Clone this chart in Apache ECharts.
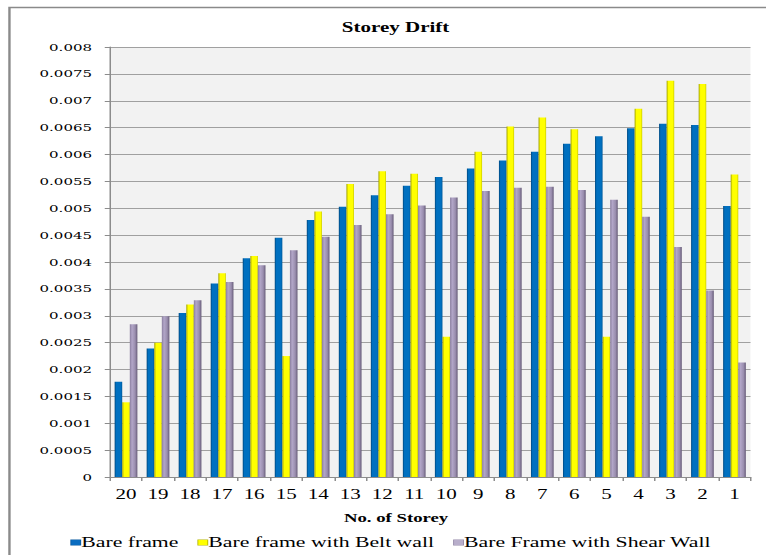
<!DOCTYPE html>
<html>
<head>
<meta charset="utf-8">
<script src="https://cdn.jsdelivr.net/npm/echarts@6/dist/echarts.min.js"></script>
<style>
  html, body { margin: 0; padding: 0; background: #ffffff; overflow: hidden; }
  /* the chart is laid out narrow and widened with a horizontal stretch */
  #chart { width: 510.67px; height: 555px; transform: scaleX(1.5); transform-origin: 0 0; }
</style>
</head>
<body>
<div id="chart"></div>
<script>
const storeys = ['20', '19', '18', '17', '16', '15', '14', '13', '12', '11',
                 '10', '9', '8', '7', '6', '5', '4', '3', '2', '1'];

const bareFrame = [0.00177, 0.00239, 0.00305, 0.00360, 0.00407, 0.00445, 0.00478, 0.00503, 0.00524, 0.00542,
                   0.00558, 0.00574, 0.00589, 0.00605, 0.00620, 0.00634, 0.00649, 0.00657, 0.00655, 0.00504];

const beltWall = [0.00139, 0.00250, 0.00321, 0.00379, 0.00411, 0.00225, 0.00494, 0.00545, 0.00569, 0.00564,
                  0.00261, 0.00605, 0.00652, 0.00669, 0.00647, 0.00261, 0.00685, 0.00737, 0.00731, 0.00563];

const shearWall = [0.00284, 0.00299, 0.00329, 0.00363, 0.00394, 0.00422, 0.00447, 0.00469, 0.00489, 0.00505,
                   0.00520, 0.00532, 0.00538, 0.00540, 0.00534, 0.00516, 0.00484, 0.00428, 0.00347, 0.00213];

const seriesNames = ['Bare frame', 'Bare frame with Belt wall', 'Bare Frame with Shear Wall'];

const serif = '"Liberation Serif", "Times New Roman", serif';

function shade(stops) {
  return new echarts.graphic.LinearGradient(0, 0, 1, 0,
    stops.map(([offset, color]) => ({ offset, color })));
}

const blueFill = shade([[0, '#00477e'], [0.22, '#0070c0'], [0.8, '#0070c0'], [1, '#005a9c']]);
const yellowFill = shade([[0, '#a3a300'], [0.25, '#ffff00'], [0.82, '#ffff00'], [1, '#c8c800']]);
const purpleFill = shade([[0, '#8a7e9f'], [0.3, '#b2a6c8'], [0.7, '#9a8eae'], [1, '#665b78']]);

// small square keys drawn in front of each legend name
const keyBox = (color, border) => ({
  width: 6, height: 5, backgroundColor: color,
  borderColor: border, borderWidth: 0.6, verticalAlign: 'middle'
});

const chart = echarts.init(document.getElementById('chart'), null, { renderer: 'svg' });

chart.setOption({
  backgroundColor: '#ffffff',
  animation: false,
  title: {
    text: 'Storey Drift',
    left: 258.7,
    top: 15,
    textAlign: 'center',
    textStyle: { fontFamily: serif, fontSize: 14, fontWeight: 'bold', color: '#000000' }
  },
  legend: {
    data: seriesNames,
    left: 37.5,
    top: 530,
    itemWidth: 0,
    itemHeight: 0,
    itemGap: 8.2,
    icon: 'rect',
    formatter: name => '{k' + seriesNames.indexOf(name) + '|}{s|}' + name,
    textStyle: {
      fontFamily: serif,
      fontSize: 14.5,
      color: '#000000',
      rich: {
        k0: keyBox('#0a6cc0', '#0a5aa0'),
        k1: keyBox('#ffff00', '#b5b500'),
        k2: keyBox('#b8aecb', '#9488a8'),
        s: { width: 0.7 }
      }
    }
  },
  grid: {
    left: 73.33,
    right: 10.67,
    top: 47,
    bottom: 78,
    show: true,
    backgroundColor: '#f2f2f2',
    borderWidth: 0
  },
  xAxis: {
    type: 'category',
    data: storeys,
    axisLine: { lineStyle: { color: '#8c8c8c', width: 1 } },
    axisTick: { show: true, length: 4, lineStyle: { color: '#8c8c8c' } },
    axisLabel: { margin: 10, fontFamily: serif, fontSize: 14, color: '#000000' }
  },
  yAxis: {
    type: 'value',
    min: 0,
    max: 0.008,
    interval: 0.0005,
    axisLine: { show: true, lineStyle: { color: '#8c8c8c', width: 1 } },
    axisTick: { show: true, length: 3.5, lineStyle: { color: '#8c8c8c' } },
    splitLine: { show: true, lineStyle: { color: '#a0a0a0', width: 1 } },
    axisLabel: {
      margin: 12,
      fontFamily: '"DejaVu Serif", serif',
      fontSize: 10,
      color: '#000000',
      formatter: v => (v === 0 ? '0' : String(parseFloat(v.toFixed(4))))
    }
  },
  series: [
    { name: seriesNames[0], type: 'bar', data: bareFrame, barGap: '0%', barCategoryGap: '29%',
      itemStyle: { color: blueFill } },
    { name: seriesNames[1], type: 'bar', data: beltWall, barGap: '0%', barCategoryGap: '29%',
      itemStyle: { color: yellowFill } },
    { name: seriesNames[2], type: 'bar', data: shearWall, barGap: '0%', barCategoryGap: '29%',
      itemStyle: { color: purpleFill } }
  ],
  graphic: [
    {
      type: 'text',
      left: 263.3 - 34,
      top: 511,
      style: { text: 'No. of Storey', fontFamily: serif, fontSize: 12.5, fontWeight: 'bold', fill: '#000000' }
    },
    {
      type: 'polyline',
      shape: { points: [[6.3, 600], [6.3, 7.5], [600, 7.5]] },
      style: { stroke: '#8a8a8a', lineWidth: 1.6, fill: null }
    }
  ]
});
</script>
</body>
</html>
